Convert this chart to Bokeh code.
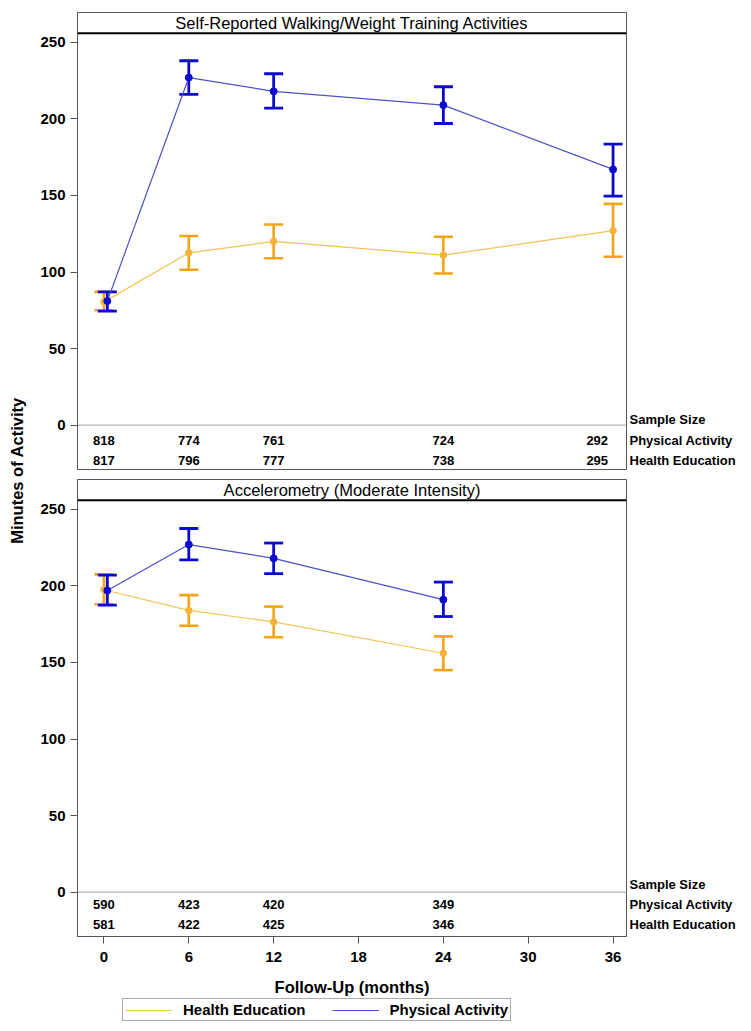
from bokeh.plotting import figure
from bokeh.models import (ColumnDataSource, Whisker, TeeHead, Span, Label, Legend,
                          LegendItem, FixedTicker, Range1d, LinearAxis)
from bokeh.layouts import column, row
from bokeh.embed import file_html
from bokeh.resources import INLINE
from bokeh.core.properties import value

# ---------------- data ----------------
months_sr = [0, 6, 12, 24, 36]
sr_pa_mean = [81, 227, 218, 209, 167]
sr_pa_lo = [74.5, 216, 207, 197, 149.5]
sr_pa_hi = [87, 238, 229.5, 221, 183.5]
sr_he_mean = [80.5, 112.5, 120, 111, 127]
sr_he_lo = [75, 101.5, 109, 99, 110]
sr_he_hi = [87, 123.5, 131, 123, 144.5]
sr_n_pa = [818, 774, 761, 724, 292]
sr_n_he = [817, 796, 777, 738, 295]

months_acc = [0, 6, 12, 24]
acc_pa_mean = [197, 227, 218, 191]
acc_pa_lo = [187.5, 217, 208, 180]
acc_pa_hi = [207, 237.5, 228, 202.5]
acc_he_mean = [197.5, 184, 176.5, 156]
acc_he_lo = [188, 174, 166.5, 145]
acc_he_hi = [207.5, 194, 186.5, 167]
acc_n_pa = [590, 423, 420, 349]
acc_n_he = [581, 422, 425, 346]

x_ticks = [0, 6, 12, 18, 24, 30, 36]
y_ticks = [0, 50, 100, 150, 200, 250]
titles = ["Self-Reported Walking/Weight Training Activities",
          "Accelerometry (Moderate Intensity)"]
row_labels = ["Sample Size", "Physical Activity", "Health Education"]
series_names = ["Health Education", "Physical Activity"]
x_label = "Follow-Up (months)"
y_label = "Minutes of Activity"

# ---------------- style ----------------
FONT = "Liberation Sans"
X0, X1 = -1.87, 36.95
Y0, Y1 = -29, 269.5
HDR = 256
FRAME_H = 457
PX_PER_UNIT = FRAME_H / (Y1 - Y0)
BLUE = "#0a0ad0"
BLUE_LINE = "#4f4fc6"
ORANGE = "#f2a414"
ORANGE_M = "#f4b23c"
ORANGE_LINE = "#f0c455"
FRAME = "#555555"
LEFT_B, RIGHT_B, FIG_W = 43, 118, 710


def panel(title, months, pa, pa_lo, pa_hi, he, he_lo, he_hi, n_pa, n_he,
          height, top_b, bot_b, offs, xaxis):
    p = figure(width=FIG_W, height=height, x_range=Range1d(X0, X1), y_range=Range1d(Y0, Y1),
               output_backend="svg", toolbar_location=None,
               min_border_left=LEFT_B, min_border_right=RIGHT_B,
               min_border_top=top_b, min_border_bottom=bot_b,
               x_axis_location="below" if xaxis else None)
    p.grid.visible = False
    p.outline_line_color = FRAME
    p.outline_line_width = 1
    p.background_fill_color = "white"
    p.border_fill_color = "white"

    ya = p.yaxis[0]
    ya.ticker = FixedTicker(ticks=y_ticks)
    ya.major_label_text_font = FONT
    ya.major_label_text_font_style = "bold"
    ya.major_label_text_font_size = "15px"
    ya.major_label_text_color = "black"
    ya.major_tick_out = 7
    ya.major_tick_in = 0
    ya.minor_tick_out = 0
    ya.minor_tick_in = 0
    ya.major_tick_line_color = FRAME
    ya.axis_line_color = FRAME
    ya.major_label_standoff = 5

    if xaxis:
        xa = p.xaxis[0]
        xa.ticker = FixedTicker(ticks=x_ticks)
        xa.major_label_text_font = FONT
        xa.major_label_text_font_style = "bold"
        xa.major_label_text_font_size = "15px"
        xa.major_label_text_color = "black"
        xa.major_tick_out = 7
        xa.major_tick_in = 0
        xa.minor_tick_out = 0
        xa.minor_tick_in = 0
        xa.major_tick_line_color = FRAME
        xa.axis_line_color = FRAME
        xa.major_label_standoff = 8
        xa.axis_label = x_label
        xa.axis_label_text_font = FONT
        xa.axis_label_text_font_style = "bold"
        xa.axis_label_text_font_size = "16.5px"
        xa.axis_label_text_color = "black"
        xa.axis_label_standoff = 13

    # right-hand sample-size row labels (as a label-only axis)
    row_vals = [round(-o / PX_PER_UNIT, 3) for o in offs]
    ra = LinearAxis(ticker=FixedTicker(ticks=row_vals),
                    major_label_overrides={v: t for v, t in zip(row_vals, row_labels)})
    ra.axis_line_color = None
    ra.major_tick_line_color = None
    ra.minor_tick_line_color = None
    ra.major_tick_out = 0
    ra.major_tick_in = 0
    ra.minor_tick_out = 0
    ra.major_label_standoff = 3
    ra.major_label_text_font = FONT
    ra.major_label_text_font_style = "bold"
    ra.major_label_text_font_size = "13px"
    ra.major_label_text_color = "black"
    p.add_layout(ra, "right")

    # header strip
    p.add_layout(Span(location=HDR, dimension="width", line_color="black", line_width=2))
    p.add_layout(Label(x=(X0 + X1) / 2, y=(HDR + Y1) / 2, text=title, text_align="center",
                       text_baseline="middle", text_font=FONT, text_font_size="16.5px",
                       text_color="black"))
    # zero reference line
    p.add_layout(Span(location=0, dimension="width", line_color="#a0a0a0", line_width=1))

    pa_x = [m + (0.24 if m == 0 else 0) for m in months]
    he_src = ColumnDataSource(dict(x=list(months), y=he, lo=he_lo, hi=he_hi))
    pa_src = ColumnDataSource(dict(x=pa_x, y=pa, lo=pa_lo, hi=pa_hi))

    p.line("x", "y", source=he_src, line_color=ORANGE_LINE, line_width=1.2)
    p.add_layout(Whisker(base="x", upper="hi", lower="lo", source=he_src,
                         line_color=ORANGE, line_width=2.6,
                         upper_head=TeeHead(size=19, line_color=ORANGE, line_width=2.6),
                         lower_head=TeeHead(size=19, line_color=ORANGE, line_width=2.6)))
    p.scatter("x", "y", source=he_src, size=6.5, fill_color=ORANGE_M, line_color=ORANGE_M)

    p.line("x", "y", source=pa_src, line_color=BLUE_LINE, line_width=1.2)
    p.add_layout(Whisker(base="x", upper="hi", lower="lo", source=pa_src,
                         line_color=BLUE, line_width=2.8,
                         upper_head=TeeHead(size=19, line_color=BLUE, line_width=2.8),
                         lower_head=TeeHead(size=19, line_color=BLUE, line_width=2.8)))
    p.scatter("x", "y", source=pa_src, size=7, fill_color=BLUE, line_color=BLUE)

    # sample size numbers
    aligns = ["right" if m == 36 else "center" for m in months]
    xoffs = [-5 if m == 36 else 0 for m in months]
    for vals, yo in ((n_pa, offs[1]), (n_he, offs[2])):
        src = ColumnDataSource(dict(x=list(months), y=[0] * len(months),
                                    t=[str(v) for v in vals], a=aligns, xo=xoffs))
        p.text("x", "y", text="t", source=src, text_align="a", x_offset="xo",
               y_offset=yo, text_baseline="middle", text_font=value(FONT),
               text_font_style="bold", text_font_size="13px", text_color="black")
    return p, he_src, pa_src


p1, _, _ = panel(titles[0], months_sr, sr_pa_mean, sr_pa_lo, sr_pa_hi,
                 sr_he_mean, sr_he_lo, sr_he_hi, sr_n_pa, sr_n_he,
                 height=474, top_b=12, bot_b=5, offs=(-5.5, 15.5, 35), xaxis=False)
p2, he_src2, pa_src2 = panel(titles[1], months_acc, acc_pa_mean, acc_pa_lo, acc_pa_hi,
                             acc_he_mean, acc_he_lo, acc_he_hi, acc_n_pa, acc_n_he,
                             height=524, top_b=5, bot_b=62, offs=(-8, 12, 32), xaxis=True)

# legend strip (its lines reuse the series data, which lie outside this strip's view)
p3 = figure(width=FIG_W, height=26, x_range=Range1d(100, 101), y_range=Range1d(1000, 1001),
            output_backend="svg", toolbar_location=None,
            x_axis_location=None, y_axis_location=None,
            min_border_left=LEFT_B, min_border_right=RIGHT_B,
            min_border_top=0, min_border_bottom=0)
p3.grid.visible = False
p3.outline_line_color = None
he_proxy = p3.line("x", "y", source=he_src2, line_color=ORANGE_LINE, line_width=1.2)
pa_proxy = p3.line("x", "y", source=pa_src2, line_color=BLUE_LINE, line_width=1.2)
legend = Legend(items=[LegendItem(label=series_names[0], renderers=[he_proxy]),
                       LegendItem(label=series_names[1], renderers=[pa_proxy])],
                orientation="horizontal", location=(45, 3))
legend.label_text_font = FONT
legend.label_text_font_style = "bold"
legend.label_text_font_size = "15px"
legend.label_text_color = "black"
legend.glyph_width = 47
legend.glyph_height = 12
legend.label_height = 12
legend.label_standoff = 11
legend.spacing = 26
legend.padding = 2
legend.margin = 0
legend.border_line_color = FRAME
legend.border_line_width = 1
legend.background_fill_color = "white"
p3.add_layout(legend, "center")

lab = figure(width=34, height=1024, output_backend="svg", toolbar_location=None,
             x_axis_location=None, y_axis_location=None,
             title=y_label, title_location="left",
             min_border_left=0, min_border_right=0, min_border_top=12, min_border_bottom=96)
lab.title.align = "center"
lab.title.text_font = FONT
lab.title.text_font_style = "bold"
lab.title.text_font_size = "16.5px"
lab.title.text_color = "black"
lab.grid.visible = False
lab.outline_line_color = None
lab.border_fill_color = "white"
lab.background_fill_color = "white"

layout = row(lab, column(p1, p2, p3))
open("out.html", "w").write(file_html(layout, INLINE))
